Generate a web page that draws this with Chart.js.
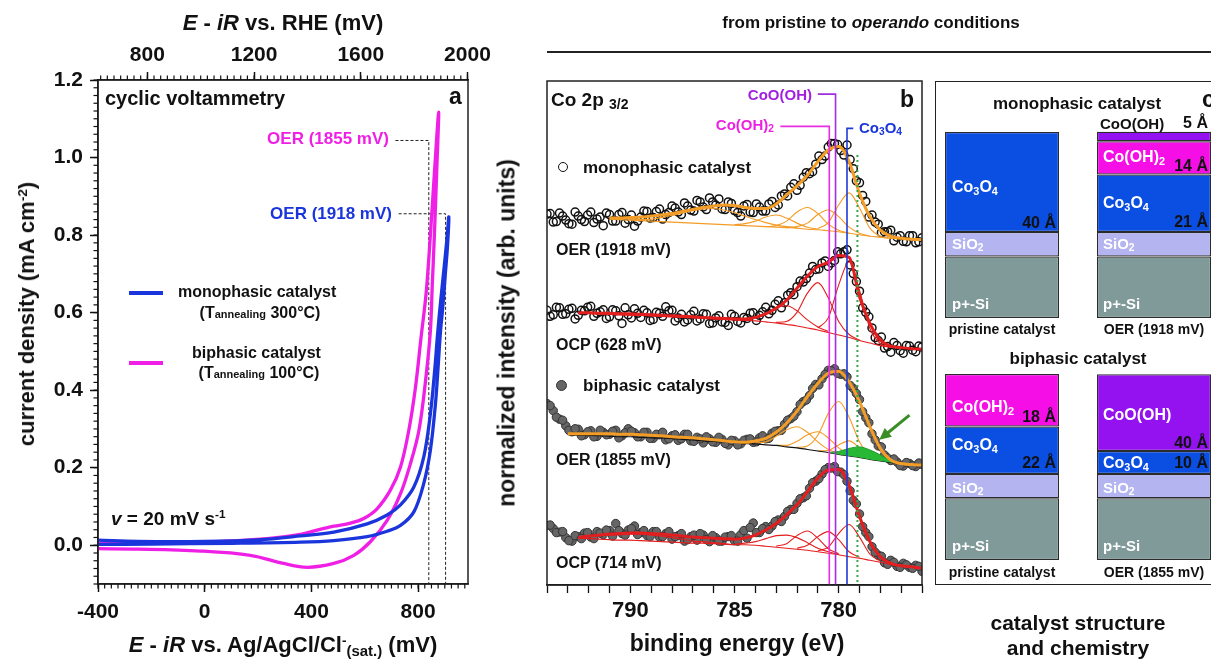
<!DOCTYPE html>
<html>
<head>
<meta charset="utf-8">
<script src="https://cdn.jsdelivr.net/npm/chart.js@4.4.1/dist/chart.umd.min.js"></script>
<style>
html, body { margin: 0; padding: 0; }
body { width: 1211px; height: 659px; overflow: hidden; position: relative; background: #fff;
       font-family: "Liberation Sans", Arial, sans-serif; font-weight: bold; color: #111; }
canvas { position: absolute; }
.t { position: absolute; white-space: nowrap; line-height: 1; transform: translate(0, -50%); }
.c { transform: translate(-50%, -50%); }
.r { transform: translate(-100%, -50%); }
.rot { transform: translate(-50%, -50%) rotate(-90deg); }
.w { color: #fff; }
sub { font-size: 68%; vertical-align: -0.28em; line-height: 0; }
sup { font-size: 62%; vertical-align: 0.55em; line-height: 0; }
.box { position: absolute; }
</style>
</head>
<body>
<canvas id="cv" width="500" height="659" style="left:0;top:0"></canvas>
<canvas id="xps" width="420" height="659" style="left:520px;top:0"></canvas>
<div class="box" style="left:935px;top:81px;width:300px;height:502px;border:1.5px solid #222"></div>
<canvas id="stackMono" width="304" height="200" style="left:926px;top:118px"></canvas>
<canvas id="stackBi" width="304" height="200" style="left:926px;top:360px"></canvas>

<!-- panel a text -->
<div class="t c" style="left:283px;top:23px;font-size:22px"><i>E</i> - <i>iR</i> vs. RHE (mV)</div>
<div class="t c" style="left:283px;top:645px;font-size:22px"><i>E</i> - <i>iR</i> vs. Ag/AgCl/Cl<sup>-</sup><sub>(sat.)</sub> (mV)</div>
<div class="t rot" style="left:27px;top:314px;font-size:22px">current density (mA cm<sup>-2</sup>)</div>
<div class="t" style="left:105px;top:98px;font-size:20px">cyclic voltammetry</div>
<div class="t" style="left:449px;top:96px;font-size:23px">a</div>
<div class="t r" style="left:389px;top:138px;font-size:17px;color:#f01fe6">OER (1855 mV)</div>
<div class="t r" style="left:392px;top:213px;font-size:17px;color:#1b35dc">OER (1918 mV)</div>
<div class="box" style="left:129px;top:291px;width:34px;height:4px;background:#1b35dc"></div>
<div class="t" style="left:178px;top:292px;font-size:16px">monophasic catalyst</div>
<div class="t c" style="left:260px;top:313px;font-size:16px">(T<span style="font-size:11px">annealing</span> 300°C)</div>
<div class="box" style="left:129px;top:361px;width:34px;height:4px;background:#f01fe6"></div>
<div class="t" style="left:192px;top:353px;font-size:16px">biphasic catalyst</div>
<div class="t c" style="left:259px;top:373px;font-size:16px">(T<span style="font-size:11px">annealing</span> 100°C)</div>
<div class="t" style="left:111px;top:518px;font-size:19px"><i>v</i> = 20 mV s<sup>-1</sup></div>

<!-- panel b text -->
<div class="t c" style="left:871px;top:22px;font-size:17px">from pristine to <i>operando</i> conditions</div>
<div class="box" style="left:547px;top:51px;width:664px;height:1.5px;background:#222"></div>
<div class="t c" style="left:737px;top:643px;font-size:23px">binding energy (eV)</div>
<div class="t rot" style="left:507px;top:333px;font-size:23px">normalized intensity (arb. units)</div>
<div class="t" style="left:551px;top:99px;font-size:19px">Co 2p <sub style="font-size:14px">3/2</sub></div>
<div class="t" style="left:900px;top:99px;font-size:23px">b</div>
<div class="t r" style="left:812px;top:94px;font-size:15px;color:#a21fe0">CoO(OH)</div>
<div class="t r" style="left:774px;top:124px;font-size:15px;color:#ee1fe0">Co(OH)<sub>2</sub></div>
<div class="t" style="left:859px;top:127px;font-size:15px;color:#1b35dc">Co<sub>3</sub>O<sub>4</sub></div>
<div class="box" style="left:558px;top:162px;width:8px;height:8px;border:1.6px solid #111;border-radius:50%"></div>
<div class="t" style="left:583px;top:167px;font-size:17px">monophasic catalyst</div>
<div class="t" style="left:556px;top:250px;font-size:16px">OER (1918 mV)</div>
<div class="t" style="left:556px;top:345px;font-size:16px">OCP (628 mV)</div>
<div class="box" style="left:556px;top:380px;width:9px;height:9px;border:1px solid #333;border-radius:50%;background:#666"></div>
<div class="t" style="left:583px;top:385px;font-size:17px">biphasic catalyst</div>
<div class="t" style="left:556px;top:460px;font-size:16px">OER (1855 mV)</div>
<div class="t" style="left:556px;top:563px;font-size:16px">OCP (714 mV)</div>

<!-- panel c text -->
<div class="t c" style="left:1077px;top:103px;font-size:17px">monophasic catalyst</div>
<div class="t" style="left:1202px;top:99px;font-size:23px">c</div>
<div class="t" style="left:1100px;top:123px;font-size:15px">CoO(OH)</div>
<div class="t r" style="left:1208px;top:123px;font-size:16px">5 Å</div>
<div class="t w" style="left:952px;top:187px;font-size:16px">Co<sub>3</sub>O<sub>4</sub></div>
<div class="t r" style="left:1056px;top:223px;font-size:16px">40 Å</div>
<div class="t w" style="left:952px;top:243px;font-size:15px">SiO<sub>2</sub></div>
<div class="t w" style="left:952px;top:303px;font-size:15px">p+-Si</div>
<div class="t c" style="left:1002px;top:329px;font-size:14px">pristine catalyst</div>
<div class="t w" style="left:1103px;top:157px;font-size:16px">Co(OH)<sub>2</sub></div>
<div class="t r" style="left:1208px;top:166px;font-size:16px">14 Å</div>
<div class="t w" style="left:1103px;top:203px;font-size:16px">Co<sub>3</sub>O<sub>4</sub></div>
<div class="t r" style="left:1208px;top:222px;font-size:16px">21 Å</div>
<div class="t w" style="left:1103px;top:243px;font-size:15px">SiO<sub>2</sub></div>
<div class="t w" style="left:1103px;top:303px;font-size:15px">p+-Si</div>
<div class="t c" style="left:1154px;top:329px;font-size:14px">OER (1918 mV)</div>
<div class="t c" style="left:1078px;top:358px;font-size:17px">biphasic catalyst</div>
<div class="t w" style="left:952px;top:407px;font-size:16px">Co(OH)<sub>2</sub></div>
<div class="t r" style="left:1056px;top:417px;font-size:16px">18 Å</div>
<div class="t w" style="left:952px;top:445px;font-size:16px">Co<sub>3</sub>O<sub>4</sub></div>
<div class="t r" style="left:1056px;top:463px;font-size:16px">22 Å</div>
<div class="t w" style="left:952px;top:487px;font-size:15px">SiO<sub>2</sub></div>
<div class="t w" style="left:952px;top:545px;font-size:15px">p+-Si</div>
<div class="t c" style="left:1002px;top:572px;font-size:14px">pristine catalyst</div>
<div class="t w" style="left:1103px;top:415px;font-size:16px">CoO(OH)</div>
<div class="t r" style="left:1208px;top:443px;font-size:16px">40 Å</div>
<div class="t w" style="left:1103px;top:463px;font-size:16px">Co<sub>3</sub>O<sub>4</sub></div>
<div class="t r" style="left:1208px;top:463px;font-size:16px">10 Å</div>
<div class="t w" style="left:1103px;top:487px;font-size:15px">SiO<sub>2</sub></div>
<div class="t w" style="left:1103px;top:545px;font-size:15px">p+-Si</div>
<div class="t c" style="left:1154px;top:572px;font-size:14px">OER (1855 mV)</div>
<div class="t c" style="left:1078px;top:622px;font-size:21px">catalyst structure</div>
<div class="t c" style="left:1078px;top:647px;font-size:21px">and chemistry</div>

<script>
// ---------- panel a: cyclic voltammetry ----------
const rheOffset = 1015;               // E(RHE) = E(Ag/AgCl) + offset, mV
const agTicks = [-400, 0, 400, 800];
const rheTicks = [800, 1200, 1600, 2000];
const curTicks = [0, 0.2, 0.4, 0.6, 0.8, 1.0, 1.2];

// monophasic (300 C) loop, forward then reverse scan
const monoFwdV = [-400, -250, 0, 200, 359, 484, 609, 684, 734, 784, 821, 846, 862, 874, 886, 898, 908, 915];
const monoFwdJ = [0.013, 0.010, 0.010, 0.014, 0.024, 0.034, 0.055, 0.078, 0.104, 0.150, 0.227, 0.339, 0.450, 0.553, 0.64, 0.72, 0.79, 0.847];
const monoRevV = [915, 910, 902, 892, 884, 875, 865, 846, 821, 784, 734, 684, 609, 484, 359, 100, -200, -400];
const monoRevJ = [0.847, 0.77, 0.70, 0.61, 0.553, 0.46, 0.365, 0.245, 0.159, 0.086, 0.051, 0.036, 0.022, 0.012, 0.008, 0.005, 0.003, 0.002];
// biphasic (100 C) loop
const biFwdV = [-400, -250, 0, 234, 359, 421, 484, 546, 596, 646, 696, 734, 765, 790, 811, 830, 846, 862, 877];
const biFwdJ = [0.005, 0.007, 0.008, 0.017, 0.028, 0.039, 0.049, 0.057, 0.069, 0.094, 0.142, 0.202, 0.296, 0.407, 0.536, 0.65, 0.80, 0.97, 1.117];
const biRevV = [877, 870, 861, 853, 846, 828, 803, 771, 734, 684, 621, 559, 484, 384, 296, 171, -16, -250, -400];
const biRevJ = [1.117, 0.97, 0.80, 0.67, 0.553, 0.425, 0.296, 0.210, 0.133, 0.064, 0.009, -0.026, -0.047, -0.057, -0.047, -0.026, -0.015, -0.010, -0.009];

const oerRhe = [1855, 1918];
const oerLabelJ = [1.044, 0.855];
const oerLabelV = [715, 727];

// ---------- panel b: Co 2p3/2 XPS ----------
const beTicks = [790, 785, 780];
const scanStep = 0.3;   // points A start at 794.00 eV, points B at 793.85 eV
const fitStep = 0.5;

const monoOerScan = [73.6, 72.0, 73.8, 72.4, 71.6, 73.2, 72.1, 74.0, 72.6, 71.3, 73.5, 72.2, 73.9, 72.5, 71.2, 73.0, 74.1, 72.9, 74.6, 73.5,
  75.2, 74.0, 75.8, 74.4, 76.3, 75.0, 76.8, 75.4, 74.6, 76.0, 74.3, 73.2, 75.5, 73.9, 75.0, 74.2, 76.1, 75.4, 77.6, 78.9,
  78.3, 80.9, 81.6, 83.5, 84.4, 86.9, 87.6, 86.2, 87.3, 82.6, 79.8, 76.1, 73.4, 71.6, 70.1, 70.4, 69.0, 68.2, 69.3, 67.9, 68.9];
const monoOerScanB = [73.7, 72.1, 73.2, 71.7, 74.0, 72.5, 73.4, 71.9, 73.0, 73.8, 72.2, 73.5, 71.8, 73.4, 72.2, 74.2, 72.8, 74.1, 72.6, 73.9,
  74.8, 73.5, 75.2, 74.2, 76.0, 74.5, 76.0, 76.6, 74.5, 75.7, 73.9, 75.2, 74.0, 75.6, 74.2, 75.6, 74.9, 77.2, 77.2, 79.6,
  79.3, 81.8, 82.0, 85.1, 85.1, 87.6, 87.4, 85.3, 84.4, 80.2, 77.3, 73.0, 72.0, 69.9, 70.1, 68.3, 69.3, 68.1, 69.3, 68.1];
const monoOerFit = [72.8, 72.8, 72.9, 73.0, 73.2, 73.4, 73.7, 74.1, 74.5, 74.9, 75.2, 75.4, 75.3, 74.9, 74.7, 74.7, 75.6, 77.4, 79.2, 81.3,
  84.0, 86.3, 87.0, 84.0, 77.7, 73.1, 70.4, 69.2, 68.8, 68.6, 68.5];
const monoOerBg = [72.6, 72.5, 72.4, 72.3, 72.2, 72.1, 72.0, 71.9, 71.8, 71.7, 71.6, 71.5, 71.4, 71.3, 71.2, 71.1, 71.0, 70.9, 70.8, 70.6,
  70.5, 70.3, 70.1, 69.8, 69.5, 69.2, 69.0, 68.8, 68.7, 68.6, 68.5];
const monoOerPeaks = [
  [790, [72.5, 72.5, 72.6, 72.9, 73.3, 73.8, 74.3, 74.6, 74.7, 74.4, 73.9, 73.2, 72.5, 71.9, 71.4, 71.1, 70.9]],
  [785, [71.5, 71.7, 72.2, 73.0, 73.4, 72.8, 71.8, 71.0, 70.6]],
  [783.5, [71.1, 71.3, 72.2, 74.0, 74.9, 73.7, 71.6, 70.4, 69.8]],
  [782.5, [70.9, 71.1, 71.8, 73.5, 74.4, 73.1, 71.0, 69.8, 69.2]],
  [781, [70.7, 71.9, 75.4, 77.8, 74.8, 70.8, 69.2, 68.8]]
];

const monoOcpScan = [54.5, 53.6, 55.0, 53.8, 54.9, 53.5, 54.4, 55.3, 53.9, 54.6, 53.2, 54.4, 51.9, 53.6, 54.8, 53.1, 54.0, 52.7, 53.9, 55.2,
  54.5, 53.0, 52.2, 53.6, 52.4, 53.8, 51.9, 53.0, 52.2, 51.5, 53.3, 52.0, 52.9, 54.0, 53.5, 55.1, 54.5, 56.4, 56.0, 58.0,
  59.2, 60.1, 61.9, 62.6, 63.9, 63.2, 64.4, 65.7, 66.5, 61.8, 58.3, 54.1, 51.0, 48.5, 47.0, 46.2, 47.5, 46.0, 47.4, 46.3, 47.2];
const monoOcpScanB = [53.3, 55.1, 53.7, 54.7, 52.8, 54.5, 55.1, 53.3, 54.2, 52.9, 54.6, 53.4, 55.0, 53.0, 53.9, 54.5, 52.5, 54.1, 53.3, 54.4,
  52.4, 53.7, 52.6, 54.3, 52.8, 53.7, 52.0, 53.4, 52.1, 53.7, 52.3, 53.1, 53.9, 52.5, 54.2, 53.8, 55.7, 55.0, 57.5, 57.6,
  60.3, 60.8, 63.2, 62.7, 64.3, 63.9, 66.1, 66.1, 63.5, 60.2, 55.0, 53.2, 49.1, 49.2, 47.3, 48.1, 46.5, 47.5, 46.6, 47.4];
const monoOcpFit = [54.0, 54.0, 53.9, 53.9, 53.8, 53.8, 53.7, 53.6, 53.5, 53.4, 53.3, 53.2, 53.1, 53.0, 52.9, 52.8, 52.8, 53.1, 53.8, 54.9,
  56.5, 58.9, 61.3, 63.2, 64.0, 65.4, 65.0, 57.2, 51.9, 48.6, 47.4, 47.1, 46.9, 46.8];
const monoOcpBg = [54.0, 53.9, 53.8, 53.7, 53.6, 53.5, 53.5, 53.4, 53.3, 53.2, 53.1, 53.0, 52.9, 52.8, 52.7, 52.6, 52.5, 52.4, 52.2, 52.0,
  51.7, 51.4, 51.0, 50.6, 50.1, 49.6, 49.1, 48.5, 48.0, 47.5, 47.2, 47.0, 46.9, 46.8];
const monoOcpPeaks = [
  [784.5, [52.6, 53.0, 53.8, 55.0, 55.4, 54.4, 52.6, 51.2, 50.3]],
  [783, [52.1, 52.3, 54.1, 57.9, 60.0, 57.0, 52.3, 49.7, 48.6]],
  [781, [51.0, 53.0, 59.5, 64.1, 58.5, 50.9, 47.9, 47.2]]
];

const biOerScan = [36.0, 34.6, 32.9, 31.6, 30.4, 30.9, 29.8, 30.6, 29.5, 30.3, 29.9, 30.7, 29.6, 31.0, 30.2, 29.4, 30.3, 29.1, 29.8, 28.8,
  29.6, 28.7, 29.9, 28.6, 29.3, 28.2, 29.0, 28.3, 28.9, 27.8, 28.6, 28.0, 28.9, 28.3, 29.2, 29.0, 30.1, 30.6, 31.9, 33.0,
  34.4, 36.4, 37.6, 39.8, 40.9, 42.6, 42.9, 41.8, 41.3, 39.0, 36.8, 33.2, 30.0, 27.6, 25.8, 24.7, 24.4, 23.6, 24.1, 23.5, 23.9];
const biOerScanB = [35.6, 33.3, 32.7, 30.7, 31.0, 29.6, 30.4, 29.4, 30.7, 29.8, 30.5, 29.2, 30.2, 30.5, 29.4, 30.3, 29.1, 29.9, 30.3, 29.0,
  29.8, 29.0, 29.9, 28.5, 29.0, 29.4, 28.4, 29.3, 28.1, 28.7, 27.8, 28.7, 29.0, 28.4, 29.6, 29.1, 30.5, 30.7, 32.7, 33.5,
  35.8, 36.7, 39.0, 39.7, 41.8, 42.5, 42.0, 41.9, 39.6, 38.0, 34.4, 32.2, 28.8, 27.4, 25.2, 25.0, 23.7, 24.3, 23.7, 24.2];
const biOerFit = [30.0, 30.0, 30.0, 30.0, 30.0, 29.9, 29.9, 29.8, 29.7, 29.6, 29.4, 29.3, 29.2, 29.0, 28.8, 28.6, 28.4, 28.3, 28.6, 29.1,
  30.3, 32.1, 34.5, 37.4, 40.0, 42.0, 42.4, 40.3, 36.4, 31.4, 27.1, 24.8, 24.1, 23.9, 23.8];
const biOerBg = [29.8, 29.7, 29.7, 29.6, 29.5, 29.4, 29.4, 29.3, 29.2, 29.2, 29.1, 28.9, 28.8, 28.6, 28.5, 28.4, 28.3, 28.1, 28.0, 27.8,
  27.7, 27.4, 27.2, 26.9, 26.6, 26.3, 25.9, 25.6, 25.3, 24.9, 24.6, 24.3, 24.1, 24.0, 23.9];
const biOerPeaks = [
  [784, [28.2, 28.4, 29.5, 30.8, 31.4, 30.3, 28.4, 26.9, 26.1]],
  [783, [27.7, 27.7, 28.5, 29.8, 30.4, 29.2, 27.2, 25.9, 25.4]],
  [782, [27.3, 27.6, 29.7, 34.0, 36.4, 33.3, 28.4, 25.6, 24.7]],
  [781, [26.6, 26.7, 27.8, 28.6, 27.2, 25.3, 24.6]]
];
const biOerNewPeak = [26.3, 26.5, 27.1, 27.4, 26.8, 25.8, 24.7, 24.1];
const biOerNewBase = [26.3, 25.9, 25.6, 25.3, 24.9, 24.6, 24.3, 24.1];
const newPeakStart = 780.5;

const biOcpScan = [11.8, 11.2, 10.5, 9.4, 8.7, 9.6, 10.3, 9.5, 10.6, 10.0, 10.8, 12.2, 10.2, 10.9, 11.7, 10.4, 9.8, 10.6, 9.5, 10.2,
  9.1, 9.8, 8.7, 9.6, 8.9, 9.9, 8.6, 9.4, 8.7, 9.6, 8.8, 10.0, 9.3, 12.3, 10.4, 11.6, 11.7, 12.9, 13.6, 15.0,
  16.2, 17.3, 19.2, 20.6, 22.0, 23.3, 23.5, 22.4, 20.6, 16.8, 14.1, 10.4, 7.6, 5.9, 4.4, 4.9, 3.7, 4.3, 3.5, 3.9, 2.7];
const biOcpScanB = [11.9, 10.4, 10.6, 8.8, 9.8, 9.2, 10.4, 9.2, 10.3, 10.9, 9.7, 10.8, 9.9, 11.2, 10.0, 10.8, 9.6, 10.6, 9.6, 10.6,
  9.6, 10.2, 9.0, 9.9, 10.2, 9.0, 9.8, 8.7, 9.5, 9.8, 8.7, 10.8, 11.4, 10.4, 11.2, 11.0, 12.6, 12.6, 14.6, 15.0,
  17.1, 17.7, 20.3, 21.1, 22.9, 23.2, 22.5, 21.9, 18.7, 16.1, 11.6, 9.6, 6.5, 5.7, 4.1, 4.5, 3.5, 4.0, 3.3, 3.7];
const biOcpFit = [9.4, 9.7, 9.9, 10.1, 10.2, 10.3, 10.3, 10.2, 10.1, 9.9, 9.7, 9.5, 9.4, 9.3, 9.2, 9.1, 9.3, 9.9, 10.9, 12.2,
  13.9, 15.9, 18.5, 21.2, 22.8, 22.9, 19.8, 13.6, 8.6, 5.6, 4.3, 3.8, 3.6, 3.3];
const biOcpBg = [9.3, 9.2, 9.1, 9.0, 8.9, 8.9, 8.8, 8.7, 8.6, 8.5, 8.4, 8.3, 8.3, 8.2, 8.1, 8.0, 8.0, 7.9, 7.7, 7.5,
  7.3, 7.1, 6.9, 6.6, 6.3, 6.0, 5.6, 5.3, 4.9, 4.5, 4.1, 3.8, 3.5, 3.3];
const biOcpPeaks = [
  [792.5, [9.6, 9.6, 9.8, 9.9, 10.0, 10.1, 10.1, 9.9, 9.7, 9.4, 9.1, 8.7, 8.6, 8.4, 8.2, 8.0]],
  [785, [8.1, 8.3, 8.6, 9.2, 9.8, 9.9, 9.4, 8.4, 7.3, 6.6, 6.1]],
  [783, [7.7, 8.2, 9.8, 10.7, 9.3, 7.2, 6.2]],
  [782, [7.3, 7.9, 9.6, 10.6, 9.0, 6.6, 5.5]],
  [781, [6.8, 7.5, 10.2, 12.0, 9.5, 6.1, 4.7]]
];

// reference binding energies: Co(OH)2, CoO(OH), Co3O4
const refE = [780.45, 780.15, 779.6];
const refTop = [91.0, 97.4, 90.6];
const refLeaderE = [782.8, 781.0, 779.3];
const refColors = ['#e82ee0', '#a42be0', '#1f3bd8'];
const newPhaseE = 779.1, newPhaseTop = 85.3;

// ---------- panel c: layer stacks (drawn thickness) ----------
const stackCats = ['pristine catalyst', 'OER'];
const monoSi = [24.6, 24.6], monoSiO2 = [9.8, 9.8], monoCo3O4 = [40, 23], monoCoOH2 = [null, 13.3], monoCoOOH = [null, 3.8];
const biSi = [24.7, 24.7], biSiO2 = [9.7, 9.7], biCo3O4 = [19, 9.2], biCoOH2 = [21, null], biCoOOH = [null, 30.7];

// ---------- helpers ----------
Chart.defaults.font.family = '"Liberation Sans", Arial, sans-serif';
Chart.defaults.font.weight = 'bold';
Chart.defaults.color = '#111';

const toXY = (xs, ys) => xs.map((x, i) => ({x: x, y: ys[i]}));
const onGrid = (start, step, vals) => vals.map((y, i) => ({x: +(start - i * step).toFixed(2), y: y}));

const minorTicks = {
  id: 'minorTicks',
  afterDraw(chart, args, opts) {
    const ctx = chart.ctx;
    ctx.save();
    ctx.strokeStyle = '#111';
    ctx.lineWidth = 1.2;
    (opts.axes || []).forEach(a => {
      const sc = chart.scales[a.id];
      const n = Math.round((a.to - a.from) / a.step);
      for (let i = 0; i <= n; i++) {
        const p = sc.getPixelForValue(a.from + i * a.step);
        ctx.beginPath();
        if (sc.isHorizontal()) {
          const y0 = sc.position === 'top' ? sc.bottom : sc.top;
          const dir = sc.position === 'top' ? -1 : 1;
          ctx.moveTo(p, y0);
          ctx.lineTo(p, y0 + dir * a.len);
        } else {
          ctx.moveTo(sc.right, p);
          ctx.lineTo(sc.right - a.len, p);
        }
        ctx.stroke();
      }
    });
    ctx.restore();
  }
};

const frame = {
  id: 'frame',
  afterDatasetsDraw(chart) {
    const a = chart.chartArea, ctx = chart.ctx;
    ctx.save();
    ctx.strokeStyle = '#222';
    ctx.lineWidth = 1.5;
    ctx.strokeRect(a.left, a.top, a.right - a.left, a.bottom - a.top);
    ctx.restore();
  }
};

const arrow = {
  id: 'arrow',
  afterDatasetsDraw(chart, args, o) {
    const x = chart.scales.x, y = chart.scales.y, ctx = chart.ctx;
    const x0 = x.getPixelForValue(o.from[0]), y0 = y.getPixelForValue(o.from[1]);
    const x1 = x.getPixelForValue(o.to[0]), y1 = y.getPixelForValue(o.to[1]);
    const ang = Math.atan2(y1 - y0, x1 - x0);
    ctx.save();
    ctx.strokeStyle = o.color;
    ctx.fillStyle = o.color;
    ctx.lineWidth = 3;
    ctx.beginPath();
    ctx.moveTo(x0, y0);
    ctx.lineTo(x1 - 8 * Math.cos(ang), y1 - 8 * Math.sin(ang));
    ctx.stroke();
    ctx.beginPath();
    ctx.moveTo(x1, y1);
    ctx.lineTo(x1 - 13 * Math.cos(ang - 0.45), y1 - 13 * Math.sin(ang - 0.45));
    ctx.lineTo(x1 - 13 * Math.cos(ang + 0.45), y1 - 13 * Math.sin(ang + 0.45));
    ctx.closePath();
    ctx.fill();
    ctx.restore();
  }
};

const baseOpts = {
  responsive: false,
  devicePixelRatio: 1,
  animation: false,
  events: [],
};

// ---------- draw panel a ----------
const blue = '#1b35dc', magenta = '#f01fe6';
const tickFontA = {size: 21, weight: 'bold'};
const fixTicks = list => s => { s.ticks = list.map(v => ({value: v})); };

new Chart(document.getElementById('cv'), {
  type: 'line',
  data: {
    datasets: [
      {data: toXY(monoFwdV.concat(monoRevV.slice(1)), monoFwdJ.concat(monoRevJ.slice(1))),
       borderColor: blue, borderWidth: 3.3, tension: 0.35, pointRadius: 0, order: 1},
      {data: toXY(biFwdV.concat(biRevV.slice(1)), biFwdJ.concat(biRevJ.slice(1))),
       borderColor: magenta, borderWidth: 3.3, tension: 0.35, pointRadius: 0, order: 2},
      {data: toXY([oerLabelV[0], oerRhe[0] - rheOffset, oerRhe[0] - rheOffset], [oerLabelJ[0], oerLabelJ[0], -0.1]),
       borderColor: '#222', borderWidth: 1, borderDash: [3, 2], tension: 0, pointRadius: 0, order: 3},
      {data: toXY([oerLabelV[1], oerRhe[1] - rheOffset, oerRhe[1] - rheOffset], [oerLabelJ[1], oerLabelJ[1], -0.1]),
       borderColor: '#222', borderWidth: 1, borderDash: [3, 2], tension: 0, pointRadius: 0, order: 3}
    ]
  },
  options: Object.assign({}, baseOpts, {
    layout: {padding: {left: 0, right: 32, top: 0, bottom: 0}},
    plugins: {
      legend: {display: false}, tooltip: {enabled: false},
      minorTicks: {axes: [
        {id: 'x', from: -400, to: 975, step: 25, len: 4.5},
        {id: 'xTop', from: 625, to: 2000, step: 25, len: 4.5},
        {id: 'y', from: -0.1, to: 1.2, step: 0.02, len: 4.5}
      ]}
    },
    scales: {
      x: {type: 'linear', position: 'bottom', min: -400, max: 987,
          afterBuildTicks: fixTicks(agTicks),
          ticks: {font: tickFontA, padding: 8, maxRotation: 0, autoSkip: false, callback: v => String(v)},
          grid: {drawOnChartArea: false, tickLength: 8, tickWidth: 1.5, color: '#111'},
          border: {color: '#111', width: 1.5},
          afterFit: s => { s.height = 75; s.paddingLeft = 0; s.paddingRight = 0; }},
      xTop: {type: 'linear', position: 'top', min: -400 + rheOffset, max: 987 + rheOffset,
          afterBuildTicks: fixTicks(rheTicks),
          ticks: {font: tickFontA, padding: 4, maxRotation: 0, autoSkip: false, callback: v => String(v)},
          grid: {drawOnChartArea: false, tickLength: 8, tickWidth: 1.5, color: '#111'},
          border: {color: '#111', width: 1.5},
          afterFit: s => { s.height = 80; s.paddingLeft = 0; s.paddingRight = 0; }},
      y: {type: 'linear', min: -0.1, max: 1.2,
          afterBuildTicks: fixTicks(curTicks),
          ticks: {font: tickFontA, padding: 7, callback: v => v.toFixed(1)},
          grid: {drawOnChartArea: false, tickLength: 8, tickWidth: 1.5, color: '#111'},
          border: {color: '#111', width: 1.5},
          afterFit: s => { s.width = 98; s.paddingTop = 0; s.paddingBottom = 0; }}
    }
  }),
  plugins: [minorTicks, frame]
});

// ---------- draw panel b ----------
const orange = '#f39c26', red = '#e41e1e';
const scanPts = (a, b) => a.map((y, i) => ({x: +(794 - i * scanStep).toFixed(2), y: y}))
  .concat(b.map((y, i) => ({x: +(793.85 - i * scanStep).toFixed(2), y: y})));
const fitLine = (start, vals, color, width, order) => ({
  data: onGrid(start, fitStep, vals), borderColor: color, borderWidth: width,
  pointRadius: 0, cubicInterpolationMode: 'monotone', fill: false, order: order
});
const dots = (a, b, fill, edge, r, bw) => ({
  data: scanPts(a, b), showLine: false, pointRadius: r, pointBackgroundColor: fill,
  pointBorderColor: edge, pointBorderWidth: bw, order: 9
});
const peaks = (list, color) => list.map(p => fitLine(p[0], p[1], color, 1.1, 5));

const xpsSets = [
  dots(monoOerScan, monoOerScanB, 'rgba(0,0,0,0)', '#111', 4, 1.5),
  dots(monoOcpScan, monoOcpScanB, 'rgba(0,0,0,0)', '#111', 4, 1.5),
  dots(biOerScan, biOerScanB, '#666', '#333', 4.2, 1),
  dots(biOcpScan, biOcpScanB, '#666', '#333', 4.2, 1),
  fitLine(791, monoOerBg, orange, 1.1, 5),
  ...peaks(monoOerPeaks, orange),
  fitLine(791, monoOerFit, orange, 3, 2),
  fitLine(792.5, monoOcpBg, red, 1.1, 5),
  ...peaks(monoOcpPeaks, red),
  fitLine(792.5, monoOcpFit, red, 3, 2),
  fitLine(793, biOerBg, '#111', 1.1, 5),
  ...peaks(biOerPeaks, orange),
  fitLine(newPeakStart, biOerNewBase, 'rgba(0,0,0,0)', 0, 4),
  Object.assign(fitLine(newPeakStart, biOerNewPeak, '#1f9a2a', 1, 4), {fill: '-1', backgroundColor: '#27b834'}),
  fitLine(793, biOerFit, orange, 3, 2),
  fitLine(792.5, biOcpBg, red, 1.1, 5),
  ...peaks(biOcpPeaks, red),
  fitLine(792.5, biOcpFit, red, 3, 2)
];
refE.forEach((e, i) => {
  xpsSets.push({data: toXY([refLeaderE[i], e, e], [refTop[i], refTop[i], 0]),
    borderColor: refColors[i], borderWidth: 1.6, tension: 0, pointRadius: 0, fill: false, order: 0});
});
xpsSets.push({data: toXY([newPhaseE, newPhaseE], [newPhaseTop, 0]), borderColor: '#36a845',
  borderWidth: 2, borderDash: [2, 3], tension: 0, pointRadius: 0, fill: false, order: 0});

new Chart(document.getElementById('xps'), {
  type: 'line',
  data: {datasets: xpsSets},
  options: Object.assign({}, baseOpts, {
    layout: {padding: {left: 27, right: 18, top: 81, bottom: 0}},
    plugins: {
      legend: {display: false}, tooltip: {enabled: false},
      arrow: {from: [776.6, 33.7], to: [778.05, 28.8], color: '#3b8d25'}
    },
    scales: {
      x: {type: 'linear', reverse: true, min: 776, max: 794,
          ticks: {stepSize: 1, autoSkip: false, maxRotation: 0, font: {size: 22, weight: 'bold'}, padding: 5,
                  callback: v => (beTicks.includes(v) ? String(v) : '')},
          grid: {drawOnChartArea: false, tickLength: 8, tickWidth: 1.3, color: '#111'},
          border: {color: '#111', width: 1.5},
          afterFit: s => { s.height = 74; s.paddingLeft = 0; s.paddingRight = 0; }},
      y: {display: false, min: 0, max: 100}
    }
  }),
  plugins: [frame, arrow]
});

// ---------- draw panel c ----------
const layerColors = {si: '#7f9a99', sio2: '#b4b4f0', co3o4: '#0b4ee2', cooh2: '#f50fe6', cooh: '#9411f0'};
function stackChart(id, layers) {
  new Chart(document.getElementById(id), {
    type: 'bar',
    data: {
      labels: stackCats,
      datasets: layers.map(l => ({
        data: l[0], backgroundColor: l[1], borderColor: '#2b2b2b', borderWidth: 1.2,
        borderSkipped: false, categoryPercentage: 1, barPercentage: 0.75
      }))
    },
    options: Object.assign({}, baseOpts, {
      layout: {padding: 0},
      plugins: {legend: {display: false}, tooltip: {enabled: false}},
      scales: {
        x: {display: false, stacked: true},
        y: {display: false, stacked: true, min: 0, max: 80}
      }
    })
  });
}
stackChart('stackMono', [[monoSi, layerColors.si], [monoSiO2, layerColors.sio2], [monoCo3O4, layerColors.co3o4],
                         [monoCoOH2, layerColors.cooh2], [monoCoOOH, layerColors.cooh]]);
stackChart('stackBi', [[biSi, layerColors.si], [biSiO2, layerColors.sio2], [biCo3O4, layerColors.co3o4],
                       [biCoOH2, layerColors.cooh2], [biCoOOH, layerColors.cooh]]);
</script>
</body>
</html>
